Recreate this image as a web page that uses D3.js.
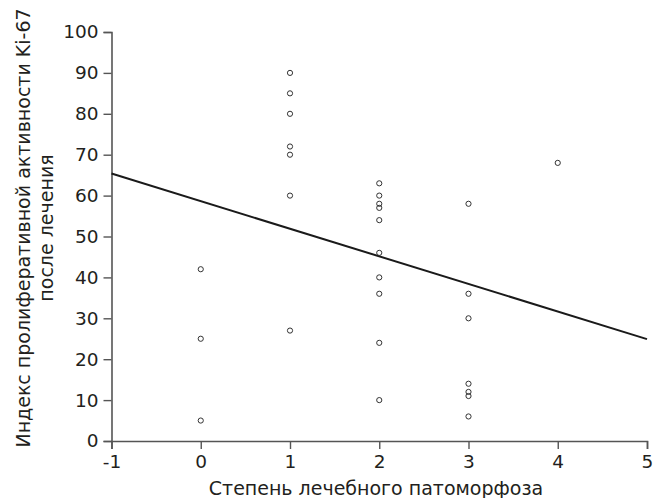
<!DOCTYPE html>
<html><head><meta charset="utf-8">
<script src="https://cdn.jsdelivr.net/npm/d3@7"></script>
<style>body{margin:0;background:#fff}svg{display:block}</style>
</head><body>
<script>
const xTicks = [-1, 0, 1, 2, 3, 4, 5];
const yTicks = [0, 10, 20, 30, 40, 50, 60, 70, 80, 90, 100];
const pointX = [0,0,0, 1,1,1,1,1,1,1, 2,2,2,2,2,2,2,2,2,2, 3,3,3,3,3,3,3, 4];
const pointY = [42,25,5, 90,85,80,72,70,60,27, 63,60,58,57,54,46,40,36,24,10, 58,36,30,14,12,11,6, 68];
const lineX = [-1, 5];
const lineY = [65.4, 24.9];
const xTitle = "Степень лечебного патоморфоза";
const yTitle = ["Индекс пролиферативной активности Ki-67", "после лечения"];

const W = 654, H = 498;
const svg = d3.select("body").append("svg").attr("width", W).attr("height", H);
const x = d3.scaleLinear().domain([-1, 5]).range([111.5, 647]);
const y = d3.scaleLinear().domain([0, 100]).range([441, 32]);
const font = "'DejaVu Sans', sans-serif";
const axisCol = "#555";

const fmt = d => String(d); // plain hyphen-minus as in the reference
const gx = svg.append("g").attr("transform", `translate(0,${y(0)})`)
  .call(d3.axisBottom(x).tickValues(xTicks).tickSize(8).tickPadding(6).tickFormat(fmt));
const gy = svg.append("g").attr("transform", `translate(${x(-1)},0)`)
  .call(d3.axisLeft(y).tickValues(yTicks).tickSize(8).tickPadding(5).tickFormat(fmt));
[gx, gy].forEach(g => {
  g.select(".domain").attr("stroke", axisCol).attr("stroke-width", 1.6);
  g.selectAll(".tick line").attr("stroke", axisCol).attr("stroke-width", 1.4);
  g.selectAll(".tick text").attr("fill", "#231f20").style("font-family", font).style("font-size", "18.5px");
});

svg.append("path")
  .datum(lineX.map((d, i) => [d, lineY[i]]))
  .attr("d", d3.line().x(d => x(d[0])).y(d => y(d[1])))
  .attr("fill", "none").attr("stroke", "#1a1a1a").attr("stroke-width", 2);

svg.append("g").selectAll("circle")
  .data(pointX.map((d, i) => [d, pointY[i]]))
  .join("circle")
  .attr("cx", d => x(d[0])).attr("cy", d => y(d[1])).attr("r", 2.6)
  .attr("fill", "none").attr("stroke", "#333").attr("stroke-width", 1);

svg.append("text").attr("x", 376).attr("y", 495).attr("text-anchor", "middle")
  .attr("fill", "#231f20").style("font-family", font).style("font-size", "19px").text(xTitle);

const cy = 228;
svg.append("text").attr("transform", `translate(30,${cy}) rotate(-90)`).attr("text-anchor", "middle")
  .attr("fill", "#231f20").style("font-family", font).style("font-size", "19px").text(yTitle[0]);
svg.append("text").attr("transform", `translate(53,${cy}) rotate(-90)`).attr("text-anchor", "middle")
  .attr("fill", "#231f20").style("font-family", font).style("font-size", "19px").text(yTitle[1]);
</script>
</body></html>
